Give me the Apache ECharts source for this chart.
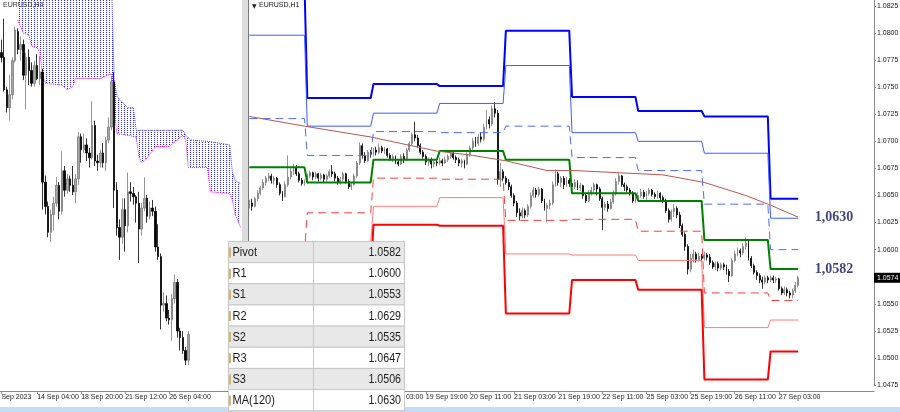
<!DOCTYPE html>
<html>
<head>
<meta charset="utf-8">
<title>EURUSD H4 / H1</title>
<script src="https://cdn.jsdelivr.net/npm/echarts@6/dist/echarts.min.js"></script>
<style>
  html, body { margin: 0; padding: 0; background: #fff; }
  #chart { width: 900px; height: 412px; }
</style>
</head>
<body>
<div id="chart"></div>
<script>
// prices are kept in pips above 1.0500
const pipBase = 1.05
const toPrice = p => +(pipBase + p / 10000).toFixed(5)

// EURUSD H4, 12 Sep 00:00 .. 27 Sep 08:00 — [open, close, low, high]
const h4Bars = [
  [248,245,242,256],[245,225,224,269],[225,214,211,227],[214,222,206,234],[222,243,219,245],
  [243,262,242,264],[261,250,247,263],[250,253,243,258],[253,234,231,256],[234,245,213,248],
  [245,237,228,250],[237,229,227,242],[229,240,227,243],[240,232,231,247],[232,236,228,246],
  [236,168,151,238],[168,153,148,172],[153,137,134,156],[137,148,131,151],[148,155,138,159],
  [155,166,153,171],[166,150,145,168],[150,175,148,187],[175,163,159,178],[163,170,161,173],
  [170,166,162,172],[166,162,160,178],[162,170,155,173],[170,196,166,199],[196,188,180,198],
  [188,191,186,198],[191,186,181,195],[186,183,177,189],[183,203,182,218],[203,181,178,206],
  [181,180,175,185],[180,186,177,188],[186,180,177,192],[180,194,175,196],[194,202,192,208],
  [202,230,200,233],[230,163,152,236],[163,140,135,168],[140,134,120,145],[134,151,130,158],
  [151,141,125,158],[141,162,137,174],[162,161,156,168],[161,159,154,165],[159,155,143,160],
  [155,139,118,162],[139,152,135,155],[152,158,150,171],[158,147,143,160],[147,152,145,156],
  [152,150,147,157],[150,128,125,153],[128,122,120,142],[122,92,77,124],[92,93,88,100],
  [93,84,82,98],[84,83,80,89],[83,96,70,99],[96,106,93,111],[106,76,72,108],
  [76,72,64,78],[72,64,62,76],[64,58,55,66],[58,74,55,76]
]

// EURUSD H1, 15 Sep 03:00 .. 27 Sep 10:00 — [open, close, low, high]
const h1Bars = [
  [141,143,138,146],[143,140,136,147],[140,147,139,149],[147,152,145,155],[152,157,150,159],
  [157,162,155,165],[162,166,159,168],[166,168,163,171],[168,164,161,170],[164,166,160,168],
  [166,160,157,167],[160,152,150,162],[152,149,145,154],[149,160,148,163],[160,167,158,187],
  [167,172,165,176],[172,176,169,179],[176,170,168,178],[170,164,162,172],[164,161,159,166],
  [161,163,159,165],[163,168,161,170],[168,171,166,173],[171,167,164,172],[167,170,165,172],
  [170,166,163,171],[166,169,164,171],[169,165,162,170],[165,168,163,170],[168,172,166,174],
  [172,170,167,178],[170,166,163,172],[166,162,160,168],[162,165,160,167],[165,170,163,172],
  [170,163,161,171],[163,158,156,165],[158,160,155,162],[160,168,159,170],[168,180,166,182],
  [180,196,178,199],[196,187,184,198],[187,182,180,190],[182,190,181,192],[190,188,185,192],
  [188,192,186,194],[192,190,187,195],[190,194,188,198],[194,191,189,196],[191,193,188,195],
  [193,187,185,194],[187,184,182,189],[184,186,181,188],[186,181,179,187],[181,179,177,183],
  [179,186,178,188],[186,183,180,189],[183,192,182,194],[192,198,190,200],[198,206,196,208],
  [206,203,200,218],[203,196,194,206],[196,190,188,198],[190,186,184,192],[186,181,178,188],
  [181,183,177,185],[183,179,175,185],[179,181,176,183],[181,180,177,183],[180,182,178,185],
  [182,180,177,184],[180,183,179,186],[183,186,181,188],[186,189,184,192],[189,185,183,190],
  [185,183,180,187],[183,180,177,185],[180,182,176,184],[182,179,175,183],[179,188,178,190],
  [188,194,186,196],[194,200,192,203],[200,198,195,204],[198,204,196,207],[204,202,199,208],
  [202,213,200,216],[213,220,211,229],[220,216,212,223],[216,230,214,233],[230,226,222,236],
  [226,165,160,229],[165,172,158,180],[172,166,163,174],[166,162,160,168],[162,158,155,165],
  [158,150,148,160],[150,143,140,152],[143,134,130,145],[134,131,127,138],[131,136,129,139],
  [136,132,129,138],[132,140,130,142],[140,150,138,153],[150,155,148,158],[155,151,148,157],
  [151,156,149,158],[156,145,143,157],[145,138,136,147],[138,141,125,143],[141,143,137,146],
  [143,160,141,163],[160,170,158,174],[170,162,159,172],[162,166,158,168],[166,160,156,168],
  [160,164,158,167],[164,161,158,166],[161,158,155,164],[158,162,156,165],[162,157,155,164],
  [157,159,154,162],[159,150,147,160],[150,145,143,152],[145,152,144,155],[152,155,150,158],
  [155,160,153,162],[160,156,150,161],[156,147,145,158],[147,139,118,149],[139,142,136,144],
  [142,138,135,145],[138,144,137,147],[144,152,142,155],[152,163,150,166],[163,168,160,171],
  [168,160,158,169],[160,158,154,162],[158,155,153,160],[155,152,150,157],[152,145,143,154],
  [145,147,143,149],[147,150,145,153],[150,153,148,156],[153,149,147,155],[149,152,146,154],
  [152,155,150,157],[155,151,149,156],[151,149,147,153],[149,152,147,154],[152,148,145,153],
  [148,145,143,150],[145,136,134,147],[136,128,125,138],[128,135,126,137],[135,138,130,142],
  [138,132,129,140],[132,122,120,135],[122,114,112,124],[114,103,99,116],[103,82,77,105],
  [82,92,79,96],[92,96,88,100],[96,91,88,98],[91,94,89,97],[94,92,89,96],
  [92,95,90,98],[95,93,90,97],[93,88,86,96],[88,84,82,90],[84,87,81,89],
  [87,83,80,89],[83,86,81,88],[86,84,81,88],[84,80,77,86],[80,76,70,82],
  [76,90,75,92],[90,96,88,99],[96,99,94,102],[99,97,93,101],[97,103,95,106],
  [103,106,100,111],[106,92,90,108],[92,85,83,94],[85,79,77,87],[79,76,72,81],
  [76,72,69,78],[72,70,64,75],[70,74,68,76],[74,72,69,76],[72,74,70,76],
  [74,72,69,76],[72,73,69,75],[73,64,62,74],[64,60,58,66],[60,63,58,66],
  [63,60,57,65],[60,58,55,62],[58,62,55,64],[62,67,60,70],[67,74,65,76]
]

// time axis labels (bar index -> text)
const h4TickIdx = [0, 13, 29, 45, 61]
const h4TickText = ['Sep 2023', '14 Sep 04:00', '18 Sep 20:00', '21 Sep 12:00', '26 Sep 04:00']
const h1TickIdx = [0, 16, 32, 48, 64, 80, 96, 112, 128, 144, 160, 176, 192]
const h1TickText = ['15 Sep 03:00', '15 Sep 19:00', '18 Sep 11:00', '19 Sep 03:00', '19 Sep 19:00',
  '20 Sep 11:00', '21 Sep 03:00', '21 Sep 19:00', '22 Sep 11:00', '25 Sep 03:00',
  '25 Sep 19:00', '26 Sep 11:00', '27 Sep 03:00']

// daily classic pivots (first/last H1 bar of each day)
const dayStart = [0, 21, 45, 69, 93, 117, 141, 165, 189]
const dayEnd = [20, 44, 68, 92, 116, 140, 164, 188, 199]
const r3 = [1.0843, 1.0740, 1.0753, 1.0751, 1.0802, 1.0741, 1.0728, 1.0723, 1.0647]
const r2 = [1.0798, 1.0714, 1.0726, 1.0735, 1.0770, 1.0708, 1.0700, 1.0689, 1.0629]
const r1 = [1.0721, 1.0687, 1.0709, 1.0708, 1.0714, 1.0685, 1.0673, 1.0642, 1.0600]
const pv = [1.0676, 1.0662, 1.0683, 1.0691, 1.0683, 1.0652, 1.0645, 1.0609, 1.0582]
const s1 = [1.0599, 1.0634, 1.0666, 1.0665, 1.0627, 1.0628, 1.0617, 1.0560, 1.0553]
const s2 = [1.0554, 1.0606, 1.0640, 1.0648, 1.0596, 1.0595, 1.0590, 1.0528, 1.0535]
const s3 = [1.0477, 1.0578, 1.0623, 1.0622, 1.0541, 1.0572, 1.0563, 1.0480, 1.0506]

// MA(120) read along the H1 window
const maIdx = [0, 20, 44, 55, 68, 81, 93, 108, 118, 134, 150, 165, 180, 189, 199]
const maVal = [1.0723, 1.0714, 1.0704, 1.0698, 1.0691, 1.0687, 1.0682, 1.0673, 1.0673, 1.0671, 1.0669, 1.0662, 1.0650, 1.0641, 1.0630]

// Ichimoku kumo edges on the H4 window (bar index, pips)
const kumoTopIdx = [6, 40, 41, 42, 43, 46, 48, 49, 66, 67, 69, 76, 83, 84, 85, 87]
const kumoTop = [293, 293, 232, 221, 219, 214, 214, 200, 200, 197, 194, 193, 191, 174, 169, 167]
const kumoBotIdx = [6, 8, 10, 11, 13, 14, 15, 16, 22, 24, 26, 27, 36, 40, 41, 42, 49, 50, 51, 53, 56, 61, 66, 67, 68, 75, 76, 83, 84, 85, 87]
const kumoBot = [268, 260, 259, 252, 251, 248, 234, 229, 228, 225, 227, 232, 232, 235, 213, 198, 196, 184, 180, 183, 190, 190, 197, 194, 177, 177, 162, 161, 157, 148, 140]

// levels table
const tableLabels = ['Pivot', 'R1', 'S1', 'R2', 'S2', 'R3', 'S3', 'MA(120)']
const tableValues = ['1.0582', '1.0600', '1.0553', '1.0629', '1.0535', '1.0647', '1.0506', '1.0630']

const FONT = '"Liberation Sans", Arial, sans-serif'

function makeCats (n, idx, text) {
  const cats = new Array(n).fill('')
  idx.forEach((i, k) => { cats[i] = text[k] })
  return cats
}
const h4Cats = makeCats(88, h4TickIdx, h4TickText)
const h1Cats = makeCats(227, h1TickIdx, h1TickText)
const hasLabel = (i, v) => v !== ''

function timeAxis (gridIndex, data, offset) {
  return {
    type: 'category',
    gridIndex,
    data,
    boundaryGap: true,
    offset,
    axisLine: { show: true, lineStyle: { color: '#8a8a8a', width: 1 } },
    axisTick: { show: true, interval: hasLabel, alignWithLabel: true, length: 3, lineStyle: { color: '#8a8a8a' } },
    axisLabel: { interval: hasLabel, align: 'left', fontSize: 7, color: '#222', margin: 3, fontFamily: FONT },
    splitLine: { show: false }
  }
}

const candleStyle = {
  color: '#a8a8a8', color0: '#000000',
  borderColor: '#7a7a7a', borderColor0: '#000000', borderWidth: 0.8
}

const pivotLevels = [
  { vals: r3, color: '#0000ff', width: 2, type: 'solid' },
  { vals: r2, color: '#3f5cff', width: 1, type: 'solid' },
  { vals: r1, color: '#4d6bff', width: 1, type: [8, 5] },
  { vals: pv, color: '#008000', width: 2, type: 'solid' },
  { vals: s1, color: '#ff3b3b', width: 1, type: [8, 5] },
  { vals: s2, color: '#ff7b7b', width: 1, type: 'solid' },
  { vals: s3, color: '#ff0000', width: 2, type: 'solid' }
]

const pivotSeries = pivotLevels.map(lv => ({
  type: 'line',
  xAxisIndex: 1,
  yAxisIndex: 1,
  data: dayStart.flatMap((s, k) => [[s, lv.vals[k]], [dayEnd[k], lv.vals[k]]]),
  symbol: 'none',
  silent: true,
  lineStyle: { color: lv.color, width: lv.width, type: lv.type },
  z: 4
}))

// dotted hatch for the kumo
const hatch = document.createElement('canvas')
hatch.width = 3
hatch.height = 2
const hctx = hatch.getContext('2d')
hctx.fillStyle = '#2b2bff'
hctx.fillRect(1, 0, 1, 1)

const lastClose = toPrice(h1Bars[h1Bars.length - 1][1])
const maLast = parseFloat(tableValues[7])
const pivotNow = parseFloat(tableValues[0])

// table overlay
const rowTop = 241.5
const rowH = 21.15
const tblLeft = 228.5
const tblW = 176
const tableGraphic = []
tableLabels.forEach((lab, r) => {
  const y = rowTop + r * rowH
  tableGraphic.push({
    type: 'rect', z: 100,
    shape: { x: tblLeft, y, width: tblW, height: rowH },
    style: { fill: r % 2 === 0 ? '#e8e8e8' : '#ffffff', stroke: '#c6c6c6', lineWidth: 1 }
  })
  tableGraphic.push({
    type: 'rect', z: 101,
    shape: { x: tblLeft + 0.5, y: y + 6, width: 2, height: 10 },
    style: { fill: '#d7b56f' }
  })
  tableGraphic.push({
    type: 'text', z: 102, x: 232.5, y: y + rowH / 2 + 0.5, scaleX: 0.85,
    style: { text: lab, font: '13px ' + FONT, fill: '#1c1c1c', textAlign: 'left', align: 'left', textVerticalAlign: 'middle', verticalAlign: 'middle' }
  })
  tableGraphic.push({
    type: 'text', z: 102, x: 401, y: y + rowH / 2 + 0.5, scaleX: 0.82,
    style: { text: tableValues[r], font: '13px ' + FONT, fill: '#1c1c1c', textAlign: 'right', align: 'right', textVerticalAlign: 'middle', verticalAlign: 'middle' }
  })
})
tableGraphic.push({
  type: 'line', z: 101,
  shape: { x1: 313.5, y1: rowTop, x2: 313.5, y2: rowTop + rowH * tableLabels.length },
  style: { stroke: '#c6c6c6', lineWidth: 1 }
})

const frameGraphic = [
  { type: 'rect', z: 50, shape: { x: 0, y: 407, width: 900, height: 5 }, style: { fill: '#c4ddf3' } },
  { type: 'rect', z: 50, shape: { x: 242, y: 0, width: 6, height: 407 }, style: { fill: '#dcdcdc' } },
  { type: 'line', z: 51, shape: { x1: 248.5, y1: 0, x2: 248.5, y2: 391 }, style: { stroke: '#777', lineWidth: 1 } },
  { type: 'text', z: 60, x: 3, y: 2, style: { text: 'EURUSD,H4', font: '7px ' + FONT, fill: '#333' } },
  { type: 'text', z: 60, x: 252, y: 3, style: { text: '▼', font: '6px "DejaVu Sans", sans-serif', fill: '#222' } },
  { type: 'text', z: 60, x: 259, y: 2, style: { text: 'EURUSD,H1', font: '7px ' + FONT, fill: '#222' } }
]

const chart = echarts.init(document.getElementById('chart'))
chart.setOption({
  animation: false,
  backgroundColor: '#ffffff',
  textStyle: { fontFamily: FONT },
  grid: [
    { left: 0, top: 0, width: 242, height: 390, outerBoundsMode: 'none' },
    { left: 248, top: 0, width: 626, height: 385, outerBoundsMode: 'none' }
  ],
  xAxis: [timeAxis(0, h4Cats, 1), timeAxis(1, h1Cats, 6)],
  yAxis: [
    { type: 'value', gridIndex: 0, min: 1.05396, max: 1.07805, show: false },
    {
      type: 'value', gridIndex: 1, position: 'right',
      min: 1.0475, max: 1.08305, interval: 0.0025,
      axisLine: { show: true, lineStyle: { color: '#8a8a8a' } },
      axisTick: { show: true, length: 2, lineStyle: { color: '#8a8a8a' } },
      axisLabel: { fontSize: 7, color: '#222', margin: 3, showMaxLabel: false, fontFamily: FONT, formatter: v => v.toFixed(4) },
      splitLine: { show: false }
    }
  ],
  graphic: { elements: frameGraphic.concat(tableGraphic) },
  series: [
    {
      type: 'custom',
      xAxisIndex: 0,
      yAxisIndex: 0,
      silent: true,
      data: [0],
      z: 1,
      renderItem: (params, api) => {
        const top = kumoTopIdx.map((x, k) => api.coord([x, toPrice(kumoTop[k])]))
        const bot = kumoBotIdx.map((x, k) => api.coord([x, toPrice(kumoBot[k])])).reverse()
        const cs = params.coordSys
        return {
          type: 'polygon',
          shape: { points: top.concat(bot) },
          style: { fill: { image: hatch, repeat: 'repeat' } },
          clipPath: { type: 'rect', shape: { x: cs.x, y: cs.y, width: cs.width, height: cs.height } }
        }
      }
    },
    {
      type: 'line', xAxisIndex: 0, yAxisIndex: 0, symbol: 'none', silent: true, z: 1,
      data: kumoTopIdx.map((x, k) => [x, toPrice(kumoTop[k])]),
      lineStyle: { color: '#3a3aff', width: 1, type: 'dotted' }
    },
    {
      type: 'line', xAxisIndex: 0, yAxisIndex: 0, symbol: 'none', silent: true, z: 1,
      data: kumoBotIdx.map((x, k) => [x, toPrice(kumoBot[k])]),
      lineStyle: { color: '#ff00ff', width: 1, type: 'dotted' }
    },
    {
      type: 'candlestick',
      xAxisIndex: 0,
      yAxisIndex: 0,
      barWidth: 1.8,
      silent: true,
      data: h4Bars.map(b => b.map(toPrice)),
      itemStyle: candleStyle
    },
    {
      type: 'candlestick',
      xAxisIndex: 1,
      yAxisIndex: 1,
      barWidth: 1.4,
      silent: true,
      data: h1Bars.map(b => b.map(toPrice)),
      itemStyle: candleStyle
    },
    ...pivotSeries,
    {
      type: 'line', xAxisIndex: 1, yAxisIndex: 1, symbol: 'none', silent: true, z: 4,
      data: maIdx.map((x, k) => [x, maVal[k]]),
      lineStyle: { color: '#b9564f', width: 1 }
    },
    {
      type: 'scatter', xAxisIndex: 1, yAxisIndex: 1, silent: true, z: 6,
      symbolSize: 1,
      itemStyle: { color: 'rgba(0,0,0,0)' },
      data: [[212, maLast], [212, pivotNow]],
      label: {
        show: true, position: 'inside',
        formatter: p => p.value[1].toFixed(4).replace('.', ','),
        color: '#12125e', fontSize: 14, fontWeight: 'bold', fontFamily: '"Liberation Serif", "Times New Roman", serif'
      }
    }
  ]
})

// current price tag on the price scale
const tagY = chart.convertToPixel({ yAxisIndex: 1 }, lastClose)
const priceTag = [
  { type: 'rect', z: 60, shape: { x: 874, y: tagY - 5, width: 26, height: 10 }, style: { fill: '#000' } },
  { type: 'text', z: 61, x: 877, y: tagY + 0.5, style: { text: lastClose.toFixed(4), font: '7px ' + FONT, fill: '#fff', textVerticalAlign: 'middle', verticalAlign: 'middle' } }
]
chart.setOption({ graphic: { elements: frameGraphic.concat(tableGraphic, priceTag) } })
</script>
</body>
</html>
